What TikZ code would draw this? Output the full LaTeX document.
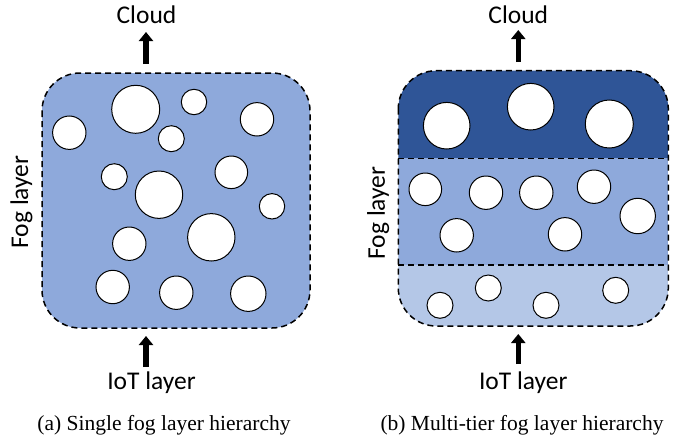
\documentclass[tikz,border=0pt]{standalone}
\usepackage{fontspec}
\setmainfont{Liberation Serif}
\newfontfamily\labelfont{Carlito}
\usetikzlibrary{arrows.meta}
\definecolor{fogmid}{HTML}{8EA9DB}
\definecolor{fogdark}{HTML}{2F5597}
\definecolor{foglight}{HTML}{B4C7E7}
\begin{document}
\begin{tikzpicture}[x=1pt,y=-1pt,
  dev/.style={draw=black,line width=1pt,fill=white},
  border/.style={draw=black,line width=1.5pt,dash pattern=on 6pt off 4pt},
  lbl/.style={font=\labelfont\fontsize{25.5}{28}\selectfont,inner sep=0pt},
  captext/.style={font=\fontsize{21.5}{24}\selectfont,inner sep=0pt},
  bigarrow/.style={line width=5.5pt,-{Triangle[width=14pt,length=9pt]}}]
\useasboundingbox (0,0) rectangle (683,442);
% ---------- (a) ----------
\path[fill=fogmid,rounded corners=38pt] (42,73) rectangle (310,328);
\draw[border,rounded corners=38pt] (42,73) rectangle (310,328);
\foreach \x/\y/\r [count=\i] in {135.7/109.3/24,194/102/12.7,257/119.3/16.7,69.3/132.7/16.7,171.3/138.7/13,
  114.3/176.7/13,231.3/172.3/16.3,159/194.7/23.7,272/206.3/12.7,211.3/237.3/23.7,129.3/243.7/16.7,
  112.7/287/16.7,176.3/292.7/16.7,248.3/293.7/17.7}
  \draw[dev] (\x,\y) circle[radius=\r];
\node[lbl] (cloudA) at (146.5,15) {Cloud};
\node[lbl] (iotA) at (151.5,383) {IoT layer};
\node[lbl,rotate=90] (fogA) at (21.5,202) {Fog layer};
\coordinate (a1) at (146,64);
\coordinate (a2) at (146,32);
\coordinate (a3) at (146,367);
\coordinate (a4) at (146,336);
\draw[bigarrow] (a1) -- (a2);
\draw[bigarrow] (a3) -- (a4);
\node[captext] (capA) at (164,425) {(a) Single fog layer hierarchy};
% ---------- (b) ----------
\begin{scope}
\clip[rounded corners=38pt] (398.3,70.7) rectangle (668.3,326);
\fill[fogdark] (398,70) rectangle (669,158.3);
\fill[fogmid] (398,158.3) rectangle (669,265);
\fill[foglight] (398,265) rectangle (669,327);
\end{scope}
\draw[border,rounded corners=38pt] (398.3,70.7) rectangle (668.3,326);
\draw[border] (398.3,158.3) -- (668.3,158.3);
\draw[border] (398.3,265) -- (668.3,265);
\foreach \x/\y/\r in {446.7/125.7/23.3,530.7/106.7/23.3,609.3/124/24,
  425.3/189.3/16.3,486/192.7/16.7,536.3/192.7/16.7,594/186.7/16.7,637.7/216/17.7,456.7/235.3/16.7,565/234.3/16.7,
  440/305.3/13,488.3/288/13,546/305.3/13,615.7/290.3/13}
  \draw[dev] (\x,\y) circle[radius=\r];
\node[lbl] (cloudB) at (518.3,15) {Cloud};
\node[lbl] (iotB) at (523.3,383) {IoT layer};
\node[lbl,rotate=90] (fogB) at (378.3,213) {Fog layer};
\coordinate (b1) at (518.3,62);
\coordinate (b2) at (518.3,30);
\coordinate (b3) at (518.3,364);
\coordinate (b4) at (518.3,334);
\draw[bigarrow] (b1) -- (b2);
\draw[bigarrow] (b3) -- (b4);
\node[captext] (capB) at (522,425) {(b) Multi-tier fog layer hierarchy};
\end{tikzpicture}
\end{document}
